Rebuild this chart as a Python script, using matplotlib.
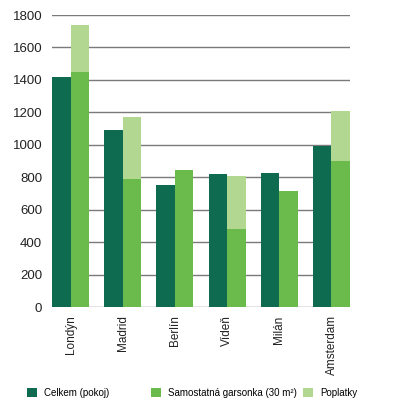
import numpy as np
import matplotlib
matplotlib.use('Agg')
import matplotlib.pyplot as plt

plt.rcParams['font.family'] = ['Liberation Sans', 'DejaVu Sans']

cities = ['Londýn', 'Madrid', 'Berlín', 'Vídeň', 'Milán', 'Amsterdam']
celkem = [1420, 1090, 750, 820, 825, 990]
garsonka = [1450, 790, 845, 480, 715, 900]
poplatky = [290, 380, 0, 330, 0, 310]

labels = ['Celkem (pokoj)', 'Samostatná garsonka (30 m²)', 'Poplatky']
c_dark = '#0e6b4f'
c_mid = '#6abb4c'
c_light = '#b1d790'

fig = plt.figure(figsize=(4.1, 4.0), dpi=100)
ax = fig.add_axes([52/410, 1 - 307/400, 298/410, 292/400])

x = np.arange(len(cities))
w = 0.355
b1 = ax.bar(x - w/2, celkem, w, color=c_dark, zorder=3)
b2 = ax.bar(x + w/2, garsonka, w, color=c_mid, zorder=3)
b3 = ax.bar(x + w/2, poplatky, w, bottom=garsonka, color=c_light, zorder=3)

ax.set_xlim(-w, len(cities) - 1 + w)
ax.set_ylim(0, 1800)
ax.set_yticks(np.arange(0, 1801, 200))
ax.yaxis.grid(True, color='#7a7a7a', linewidth=1.0, zorder=0)
ax.set_axisbelow(True)
for s in ['top', 'right', 'left', 'bottom']:
    ax.spines[s].set_visible(False)
ax.tick_params(axis='y', length=0, pad=7, labelsize=9.5, colors='#222222')
ax.tick_params(axis='x', length=0, pad=6, labelsize=8.5, colors='#222222')
ax.set_xticks(x)
ax.set_xticklabels(cities, rotation=90, va='top')

# legend row at the bottom edge
handles = [b1, b2, b3]
xpos = [27, 151, 303]
for h, lab, xp in zip(handles, labels, xpos):
    fig.legend([h], [lab], loc='upper left',
               bbox_to_anchor=(xp/410, 1 - 388/400),
               frameon=False, fontsize=7, handlelength=1.0,
               handleheight=1.0, handletextpad=0.8,
               borderpad=0, borderaxespad=0)

fig.savefig('out.png', dpi=100)
